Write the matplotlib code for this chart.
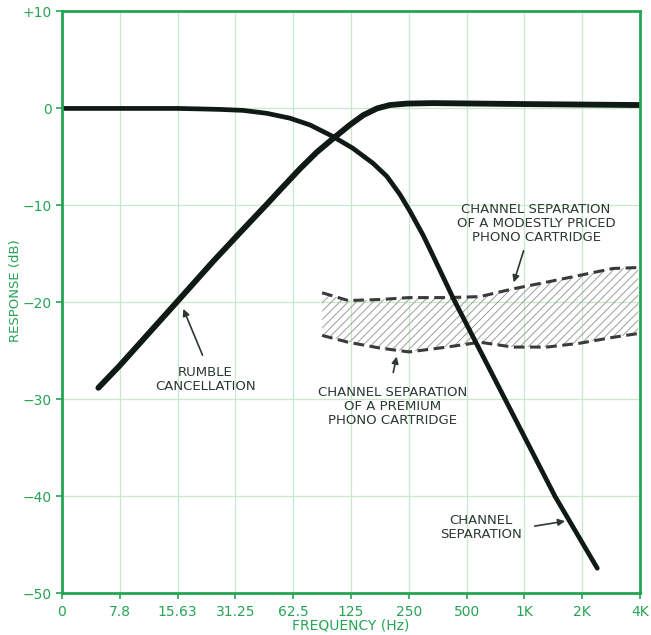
import matplotlib
import numpy as np

matplotlib.use('Agg')
import matplotlib.pyplot as plt

# x positions are octave steps: index 0..10 maps onto the tick labels below
freq_labels = ['0', '7.8', '15.63', '31.25', '62.5', '125', '250', '500', '1K', '2K', '4K']
db_ticks = [10, 0, -10, -20, -30, -40, -50]
db_labels = ['+10', '0', '\u221210', '\u221220', '\u221230', '\u221240', '\u221250']

# rumble cancellation (high-pass)
rumble_x = [0.63, 1.0, 1.98, 2.61, 3.08, 3.54, 3.82, 4.12, 4.41, 4.69, 4.98, 5.21, 5.45,
            5.67, 5.97, 6.42, 8.0, 10.0]
rumble_db = [-28.8, -26.5, -20.0, -15.8, -12.8, -9.9, -8.1, -6.2, -4.5, -3.1, -1.7, -0.7,
             0.0, 0.35, 0.5, 0.55, 0.45, 0.35]

# channel separation (low-pass)
sep_x = [0.0, 2.0, 2.39, 2.73, 3.13, 3.54, 3.94, 4.29, 4.69, 5.03, 5.38, 5.62, 5.85, 6.02,
         6.25, 6.42, 6.77, 8.53, 9.26]
sep_db = [0.0, 0.0, -0.05, -0.1, -0.2, -0.5, -1.0, -1.7, -2.9, -4.1, -5.65, -7.0, -8.9, -10.6,
          -13.1, -15.2, -19.6, -40.0, -47.4]

# cartridge channel separation band
band_x = [4.5, 4.95, 5.5, 6.0, 6.66, 7.23, 7.8, 8.39, 8.96, 9.53, 9.97]
modest_db = [-19.0, -19.8, -19.7, -19.5, -19.5, -19.4, -18.6, -17.9, -17.2, -16.5, -16.4]
premium_db = [-23.4, -24.1, -24.7, -25.1, -24.6, -24.1, -24.6, -24.6, -24.2, -23.6, -23.2]

green = '#25a454'
grid_green = '#c8e8cf'
ink = '#2b3a30'

plt.rcParams['font.family'] = ['DejaVu Sans']
plt.rcParams['hatch.linewidth'] = 0.7
plt.rcParams['hatch.color'] = '#9a9f9a'

fig = plt.figure(figsize=(6.51, 6.35), dpi=100)
ax = fig.add_axes([0.0952, 0.0654, 0.888, 0.9166])

ax.set_xlim(0, 10)
ax.set_ylim(-50, 10)
ax.set_xticks(range(len(freq_labels)))
ax.set_xticklabels(freq_labels)
ax.set_yticks(db_ticks)
ax.set_yticklabels(db_labels)
ax.grid(True, color=grid_green, lw=0.9)
ax.set_axisbelow(True)
for s in ax.spines.values():
    s.set_color(green)
    s.set_linewidth(2)
ax.tick_params(colors=green, labelcolor=green, labelsize=10, length=4, width=1.2)
ax.tick_params(axis='x', pad=4)

ax.set_xlabel('FREQUENCY (Hz)', color=green, fontsize=10, labelpad=0)
ax.set_ylabel('RESPONSE (dB)', color=green, fontsize=9.5, labelpad=6)
ax.yaxis.set_label_coords(-0.07, 0.52)

# hatched band
ax.fill_between(band_x, premium_db, modest_db, facecolor='none', hatch='////',
                edgecolor='#9a9f9a', lw=0)
ax.plot(band_x, modest_db, color='#3a3a3a', lw=2.2, ls=(0, (3.5, 1.8)))
ax.plot(band_x, premium_db, color='#3a3a3a', lw=2.2, ls=(0, (3.5, 1.8)))

ax.plot(sep_x, sep_db, color='#101a14', lw=3.4, solid_capstyle='round', solid_joinstyle='round')
ax.plot(rumble_x, rumble_db, color='#101a14', lw=4.2, solid_capstyle='round',
        solid_joinstyle='round')

fs = 9.5
ax.text(2.48, -27.9, 'RUMBLE\nCANCELLATION', ha='center', va='center', fontsize=fs,
        color=ink, linespacing=1.1)
ax.annotate('', xy=(2.08, -20.4), xytext=(2.45, -25.7),
            arrowprops=dict(arrowstyle='-|>', color=ink, lw=1.2, mutation_scale=10))

ax.text(5.72, -30.7, 'CHANNEL SEPARATION\nOF A PREMIUM\nPHONO CARTRIDGE', ha='center',
        va='center', fontsize=fs, color=ink, linespacing=1.1)
ax.annotate('', xy=(5.8, -25.3), xytext=(5.72, -27.5),
            arrowprops=dict(arrowstyle='-|>', color=ink, lw=1.2, mutation_scale=10))

ax.text(8.2, -11.9, 'CHANNEL SEPARATION\nOF A MODESTLY PRICED\nPHONO CARTRIDGE', ha='center',
        va='center', fontsize=fs, color=ink, linespacing=1.1)
ax.annotate('', xy=(7.8, -18.2), xytext=(8.0, -14.4),
            arrowprops=dict(arrowstyle='-|>', color=ink, lw=1.2, mutation_scale=10))

ax.text(7.25, -43.2, 'CHANNEL\nSEPARATION', ha='center', va='center', fontsize=fs,
        color=ink, linespacing=1.1)
ax.annotate('', xy=(8.75, -42.5), xytext=(8.13, -43.1),
            arrowprops=dict(arrowstyle='-|>', color=ink, lw=1.2, mutation_scale=10))

plt.savefig('out.png', dpi=100)
